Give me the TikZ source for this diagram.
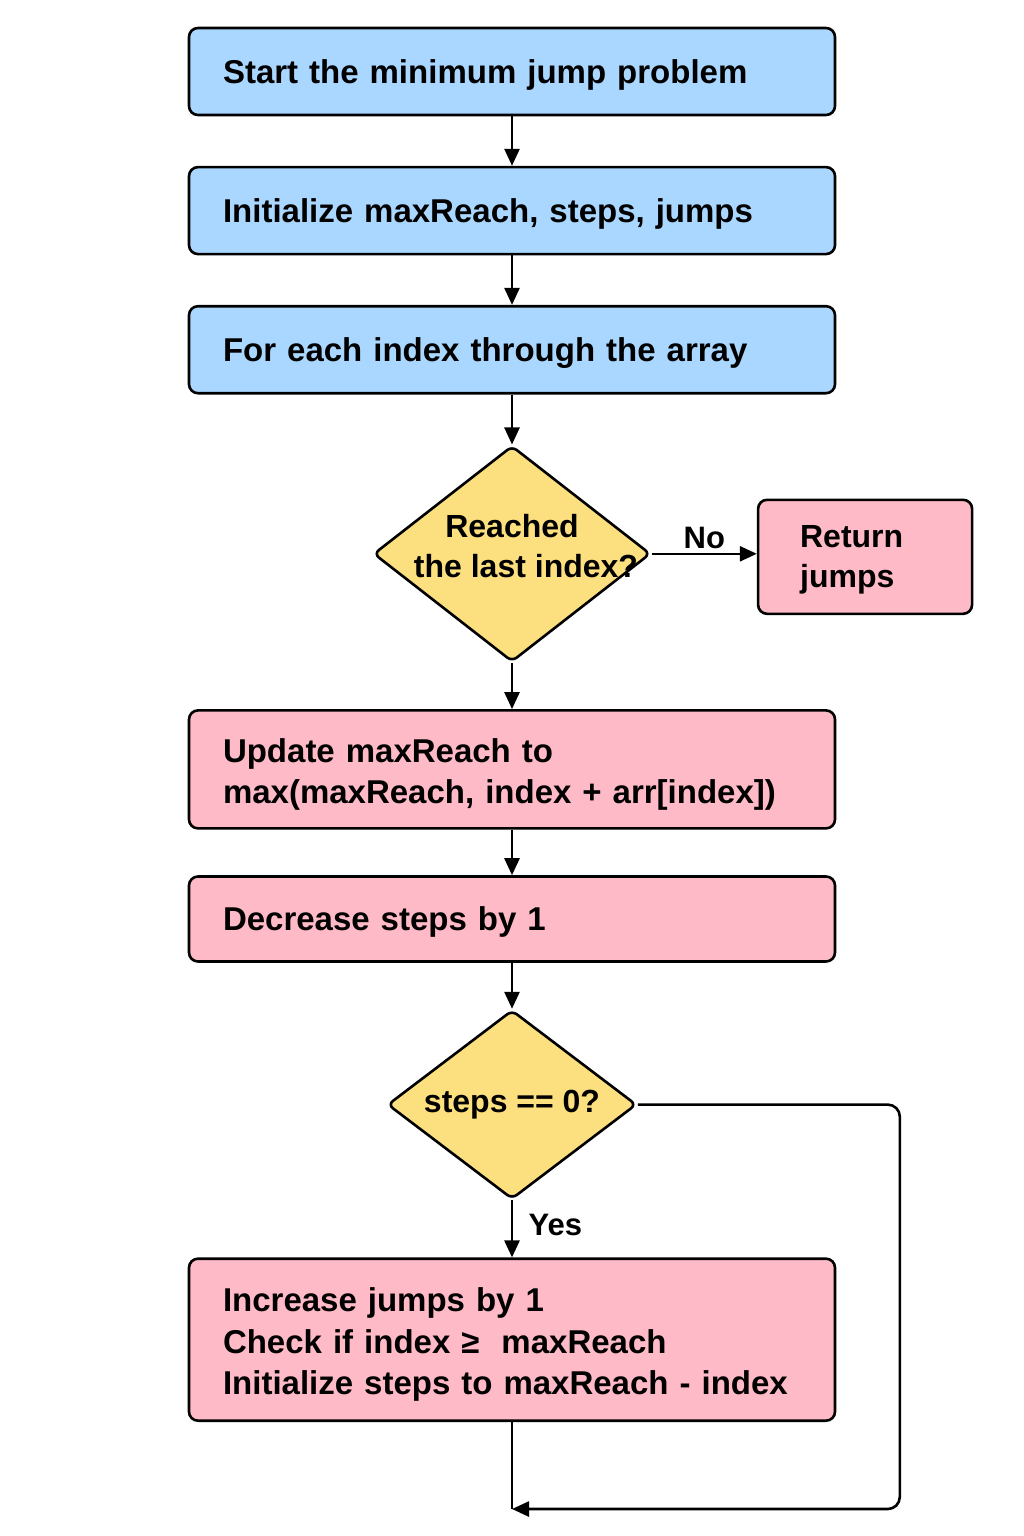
\documentclass[tikz,border=0pt]{standalone}
\usepackage{fontspec}
\setmainfont{Liberation Sans}
\usepackage{tikz}
\usetikzlibrary{shapes.geometric, arrows.meta}
\definecolor{stepblue}{HTML}{AAD7FF}
\definecolor{steppink}{HTML}{FFBAC7}
\definecolor{askyellow}{HTML}{FCE07F}
\tikzstyle{bluebox} = [rectangle, draw, rounded corners=9pt, fill=stepblue, line width=2.6pt, minimum width=646pt, text width=578pt, inner xsep=34pt, align=left, font=\fontsize{33}{41.5}\selectfont\bfseries]
\tikzstyle{pinkbox} = [bluebox, fill=steppink]
\tikzstyle{connector} = [draw, line width=2.6pt, -{Triangle[length=17pt,width=15pt]}]
\tikzset{
  decision/.style={
    diamond,
    draw,
    fill=askyellow,
    line width=2.6pt,
    rounded corners=6pt,
    inner sep=0pt,
    align=center,
    font=\fontsize{32}{40}\selectfont\bfseries},
  branchlabel/.style={
    font=\fontsize{31}{38}\selectfont\bfseries}
}
\usetikzlibrary{positioning}

\begin{document}
\begin{tikzpicture}[node distance=49.5pt]
      \useasboundingbox (0,0) rectangle (1024pt,-1536pt);
      % Define nodes using positioning
      \node (start) [bluebox, minimum height=87pt, text depth=0pt] at (512pt,-71.5pt) {Start the minimum jump problem};
      \node (init) [bluebox, minimum height=87pt, text depth=0pt, below=of start] {Initialize maxReach, steps, jumps};
      \node (loop) [bluebox, minimum height=87pt, text depth=0pt, below=of init] {For each index through the array};
      \node (reached) [decision, minimum width=277pt, minimum height=216pt, text height=0pt, text depth=0pt, below=50pt of loop] {\makebox[0pt]{\raisebox{-2pt}{\begin{tabular}{@{}c@{}}Reached\\[0pt]\hspace*{28pt}the last index?\end{tabular}}}};
      \node (return) [pinkbox, minimum width=214pt, text width=130pt, inner xsep=42pt, minimum height=114pt, text height=29pt, right=105pt of reached, yshift=-3pt, font=\fontsize{32}{40}\selectfont\bfseries] {Return\\jumps};
      \node (update) [pinkbox, minimum height=118pt, text height=34pt, below=46pt of reached] {Update maxReach to\\max(maxReach, index + arr[index])};
      \node (decrease) [pinkbox, minimum height=85pt, text depth=0pt, below=45.5pt of update] {Decrease steps by 1};
      \node (check) [decision, minimum width=249pt, minimum height=189pt, below=46pt of decrease] {\makebox[0pt]{steps == 0?}};
      \node (jump) [pinkbox, minimum height=162pt, text height=34pt, below=57pt of check] {Increase jumps by 1\\Check if index ≥\ \ maxReach\\Initialize steps to maxReach - index};
      \coordinate (merge) at ([yshift=-87pt]jump.south);
      \coordinate (turn) at ([xshift=262pt]check.east);

      % Draw connectors
      \draw [connector] (start) -- (init);
      \draw [connector] (init) -- (loop);
      \draw [connector] (loop) -- (reached);
      \draw [connector] (reached.east) -- node [branchlabel, above] {No} (reached.east -| return.west);
      \draw [connector] (reached) -- (update);
      \draw [connector] (update) -- (decrease);
      \draw [connector] (decrease) -- (check);
      \draw [connector] (check) -- node [branchlabel, right, xshift=12pt, yshift=4pt] {Yes} (jump);
      \draw [line width=2.6pt] (jump.south) -- (merge);
      \draw [connector, rounded corners=12pt] (check.east) -- (turn) |- (merge);
    \end{tikzpicture}
\end{document}
